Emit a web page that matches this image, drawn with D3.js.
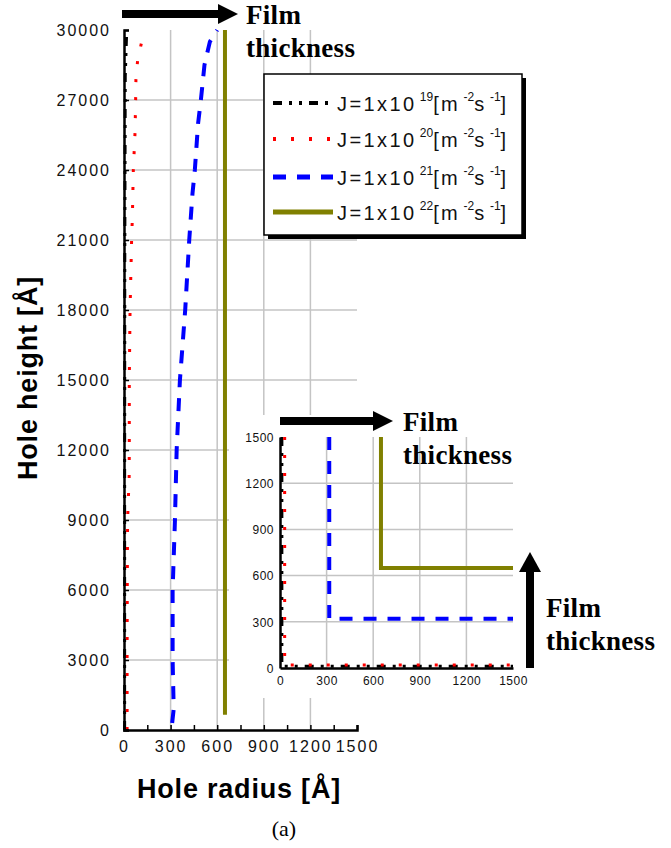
<!DOCTYPE html>
<html>
<head>
<meta charset="utf-8">
<script src="https://cdn.jsdelivr.net/npm/d3@7"></script>
<style>
  body { margin: 0; background: #fff; }
  text { font-family: "Liberation Sans", Arial, sans-serif; }
  .serif { font-family: "Liberation Serif", "Times New Roman", serif; }
</style>
</head>
<body>
<script>
// ---- data (radius [A], height [A]) ----
var mainTicksX = [0, 300, 600, 900, 1200, 1500];
var mainTicksY = [0, 3000, 6000, 9000, 12000, 15000, 18000, 21000, 24000, 27000, 30000];
var insetTicks = [0, 300, 600, 900, 1200, 1500];

var blackMainR = [4, 4, 5, 8, 17];
var blackMainH = [0, 10000, 20000, 28000, 29900];
var redMainR = [20, 20, 21, 23, 33, 34, 34, 39, 49, 54, 60, 71, 75, 77, 88, 114];
var redMainH = [0, 3000, 6000, 9000, 10800, 12000, 15000, 18000, 21000, 22000, 24000, 25600, 27000, 28000, 28700, 29500];
var blueMainR = [310, 320, 313, 313, 328, 339, 360, 394, 420, 441, 456, 477, 495, 518, 553, 600];
var blueMainH = [300, 900, 3000, 6000, 9000, 12000, 15000, 18000, 21000, 23000, 24000, 26000, 27000, 28500, 29500, 30000];
var oliveMainR = [650, 650];
var oliveMainH = [650, 30000];

var blackInsetR = [12, 12, 1500];
var blackInsetH = [1500, 12, 12];
var redInsetR = [30, 30, 1500];
var redInsetH = [1500, 20, 20];
var blueInsetR = [317, 317, 1500];
var blueInsetH = [1500, 320, 320];
var oliveInsetR = [650, 650, 1500];
var oliveInsetH = [1500, 650, 650];

var legendExp = ["19", "20", "21", "22"];

var series = [
  {color: "#000", width: 3, dash: "9,7,3,7,3,7", main: [blackMainR, blackMainH], inset: [blackInsetR, blackInsetH]},
  {color: "#ff0000", width: 3, dash: "3,15", main: [redMainR, redMainH], inset: [redInsetR, redInsetH]},
  {color: "#0000ff", width: 4, dash: "13,11", main: [blueMainR, blueMainH], inset: [blueInsetR, blueInsetH]},
  {color: "#808000", width: 4, dash: null, main: [oliveMainR, oliveMainH], inset: [oliveInsetR, oliveInsetH]}
];

var W = 671, H = 848;
var svg = d3.select("body").append("svg").attr("width", W).attr("height", H);

// main scales
var x = d3.scaleLinear().domain([0, 1500]).range([124, 357]);
var y = d3.scaleLinear().domain([0, 30000]).range([730, 30]);
// inset scales
var xi = d3.scaleLinear().domain([0, 1500]).range([280, 513]);
var yi = d3.scaleLinear().domain([0, 1500]).range([668, 437]);

var gridColor = "#c4c4c4";

function toPts(rs, hs) {
  return rs.map(function(r, i) { return [r, hs[i]]; });
}

// ---------- main plot ----------
var main = svg.append("g");
main.selectAll(".gx").data(mainTicksX.slice(1, -1)).enter().append("line")
  .attr("x1", function(d){ return x(d); }).attr("x2", function(d){ return x(d); })
  .attr("y1", y(30000)).attr("y2", y(0))
  .attr("stroke", gridColor).attr("stroke-width", 1.5);
main.selectAll(".gy").data(mainTicksY.slice(1, -1)).enter().append("line")
  .attr("x1", x(0)).attr("x2", x(1500))
  .attr("y1", function(d){ return y(d); }).attr("y2", function(d){ return y(d); })
  .attr("stroke", gridColor).attr("stroke-width", 1.5);

var lineMain = d3.line().x(function(d){ return x(d[0]); }).y(function(d){ return y(d[1]); });
series.forEach(function(s) {
  main.append("path").attr("d", lineMain(toPts(s.main[0], s.main[1])))
    .attr("fill", "none").attr("stroke", s.color).attr("stroke-width", s.width)
    .attr("stroke-dasharray", s.dash);
});

// axes
var ax = main.append("g").attr("transform", "translate(0," + y(0) + ")")
  .call(d3.axisBottom(x).tickValues(mainTicksX).tickSize(0).tickPadding(11).tickFormat(d3.format("d")));
var axMinor = main.append("g").attr("transform", "translate(0," + y(0) + ")")
  .call(d3.axisBottom(x).tickValues(d3.range(0, 1501, 150)).tickSize(-5).tickFormat(""));
var ay = main.append("g").attr("transform", "translate(" + x(0) + ",0)")
  .call(d3.axisLeft(y).tickValues(mainTicksY).tickSize(-5).tickPadding(13).tickFormat(d3.format("d")));
[ax, axMinor, ay].forEach(function(g) {
  g.select(".domain").attr("stroke", "#000").attr("stroke-width", 2.5);
  g.selectAll(".tick line").attr("stroke", "#000").attr("stroke-width", 1.5);
  g.selectAll("text").attr("fill", "#111").style("font-size", "16px").style("letter-spacing", "2px")
    .style("font-family", "'Liberation Sans', Arial, sans-serif");
});
ax.select(".domain").remove();
ay.selectAll("text").attr("dy", "0.35em");

// axis titles
svg.append("text").attr("x", 239).attr("y", 798).attr("text-anchor", "middle")
  .style("font-size", "27px").style("font-weight", "bold").style("letter-spacing", "0.8px")
  .text("Hole radius [\u00C5]");
svg.append("text").attr("transform", "translate(37,378) rotate(-90)").attr("text-anchor", "middle")
  .style("font-size", "27px").style("font-weight", "bold").style("letter-spacing", "0.8px")
  .text("Hole height [\u00C5]");
svg.append("text").attr("class", "serif").attr("x", 284).attr("y", 836).attr("text-anchor", "middle")
  .style("font-size", "22px").text("(a)");

// ---------- legend ----------
var lg = svg.append("g");
lg.append("rect").attr("x", 268).attr("y", 78).attr("width", 258).attr("height", 161).attr("fill", "#000");
lg.append("rect").attr("x", 264).attr("y", 74).attr("width", 258).attr("height", 161)
  .attr("fill", "#fff").attr("stroke", "#000").attr("stroke-width", 1.5);
var rowY = [103, 139, 177, 212];
series.forEach(function(s, i) {
  lg.append("line").attr("x1", 273).attr("x2", 333).attr("y1", rowY[i]).attr("y2", rowY[i])
    .attr("stroke", s.color).attr("stroke-width", s.width + 1).attr("stroke-dasharray", s.dash);
  var t = lg.append("text").attr("x", 337).attr("y", rowY[i] + 8)
    .style("font-size", "20px").style("letter-spacing", "2.4px").attr("fill", "#111");
  t.append("tspan").text("J=1x10");
  t.append("tspan").attr("dy", -10).style("font-size", "12px").style("letter-spacing", "0px").text(" " + legendExp[i]);
  t.append("tspan").attr("dy", 10).text("[m");
  t.append("tspan").attr("dy", -10).style("font-size", "12px").style("letter-spacing", "0px").text(" -2");
  t.append("tspan").attr("dy", 10).text("s");
  t.append("tspan").attr("dy", -10).style("font-size", "12px").style("letter-spacing", "0px").text(" -1");
  t.append("tspan").attr("dy", 10).text("]");
});

// ---------- inset ----------
var ins = svg.append("g");
ins.append("rect").attr("x", 229).attr("y", 415).attr("width", 440).attr("height", 283).attr("fill", "#fff");
ins.selectAll(".gx").data(insetTicks.slice(1, -1)).enter().append("line")
  .attr("x1", function(d){ return xi(d); }).attr("x2", function(d){ return xi(d); })
  .attr("y1", yi(1500)).attr("y2", yi(0))
  .attr("stroke", gridColor).attr("stroke-width", 1.5);
ins.selectAll(".gy").data(insetTicks.slice(1, -1)).enter().append("line")
  .attr("x1", xi(0)).attr("x2", xi(1500))
  .attr("y1", function(d){ return yi(d); }).attr("y2", function(d){ return yi(d); })
  .attr("stroke", gridColor).attr("stroke-width", 1.5);

var lineInset = d3.line().x(function(d){ return xi(d[0]); }).y(function(d){ return yi(d[1]); });
series.forEach(function(s) {
  ins.append("path").attr("d", lineInset(toPts(s.inset[0], s.inset[1])))
    .attr("fill", "none").attr("stroke", s.color).attr("stroke-width", s.width)
    .attr("stroke-dasharray", s.dash);
});

var iax = ins.append("g").attr("transform", "translate(0," + yi(0) + ")")
  .call(d3.axisBottom(xi).tickValues(insetTicks).tickSize(0).tickPadding(8).tickFormat(d3.format("d")));
var iay = ins.append("g").attr("transform", "translate(" + xi(0) + ",0)")
  .call(d3.axisLeft(yi).tickValues(insetTicks).tickSize(0).tickPadding(6).tickFormat(d3.format("d")));
[iax, iay].forEach(function(g) {
  g.select(".domain").attr("stroke", "#000").attr("stroke-width", 2.5);
  g.selectAll("text").attr("fill", "#111").style("font-size", "12px").style("letter-spacing", "0.5px")
    .style("font-family", "'Liberation Sans', Arial, sans-serif");
});
iay.selectAll("text").attr("dy", "0.35em");

// ---------- film thickness arrows ----------
function hArrow(x0, x1, yc) {
  svg.append("rect").attr("x", x0).attr("y", yc - 4).attr("width", x1 - 18 - x0).attr("height", 8).attr("fill", "#000");
  svg.append("path").attr("d", "M" + (x1 - 20) + "," + (yc - 10) + "L" + x1 + "," + yc + "L" + (x1 - 20) + "," + (yc + 10) + "Z").attr("fill", "#000");
}
function vArrow(xc, y0, y1) {
  svg.append("rect").attr("x", xc - 4).attr("y", y1 + 18).attr("width", 8).attr("height", y0 - y1 - 18).attr("fill", "#000");
  svg.append("path").attr("d", "M" + (xc - 11) + "," + (y1 + 20) + "L" + xc + "," + y1 + "L" + (xc + 11) + "," + (y1 + 20) + "Z").attr("fill", "#000");
}
function filmLabel(x0, yb) {
  var t = svg.append("text").attr("class", "serif").attr("x", x0).attr("y", yb)
    .style("font-size", "27px").style("font-weight", "bold").style("letter-spacing", "0.3px").attr("fill", "#000");
  t.append("tspan").text("Film");
  t.append("tspan").attr("x", x0).attr("dy", 33).text("thickness");
}
hArrow(122, 238, 14);
filmLabel(246, 24);
hArrow(280, 393, 421);
filmLabel(403, 431);
vArrow(530, 668, 552);
filmLabel(546, 617);
</script>
</body>
</html>
